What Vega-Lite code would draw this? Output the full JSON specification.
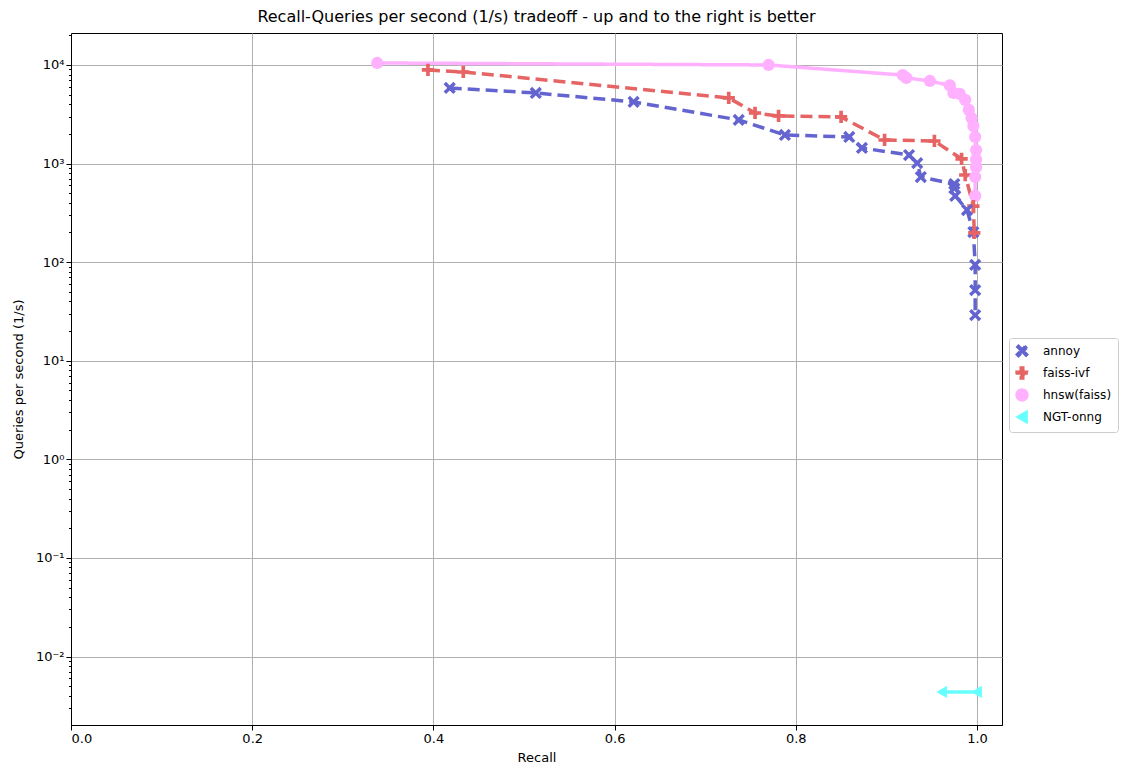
{
  "$schema": "https://vega.github.io/schema/vega-lite/v6.json",
  "autosize": "none",
  "width": 931,
  "height": 692,
  "padding": {"left": 71, "top": 33, "right": 132, "bottom": 53},
  "background": "white",
  "config": {
    "font": "DejaVu Sans",
    "view": {"stroke": "black", "strokeWidth": 1},
    "axis": {
      "labelFont": "DejaVu Sans", "titleFont": "DejaVu Sans",
      "labelFontSize": 13, "titleFontSize": 13, "titleFontWeight": "normal",
      "labelColor": "black", "titleColor": "black",
      "domainColor": "black", "tickColor": "black", "tickSize": 5,
      "gridColor": "#b0b0b0", "gridWidth": 1
    }
  },
  "title": {
    "text": "Recall-Queries per second (1/s) tradeoff - up and to the right is better",
    "fontSize": 16, "fontWeight": "normal", "font": "DejaVu Sans", "color": "black", "offset": 8
  },
  "data": {"values": [
    {"algorithm": "annoy", "recall": 0.418, "qps": 5850},
    {"algorithm": "annoy", "recall": 0.513, "qps": 5200},
    {"algorithm": "annoy", "recall": 0.621, "qps": 4220},
    {"algorithm": "annoy", "recall": 0.737, "qps": 2770},
    {"algorithm": "annoy", "recall": 0.788, "qps": 1950},
    {"algorithm": "annoy", "recall": 0.859, "qps": 1860},
    {"algorithm": "annoy", "recall": 0.873, "qps": 1440},
    {"algorithm": "annoy", "recall": 0.925, "qps": 1220},
    {"algorithm": "annoy", "recall": 0.934, "qps": 1010},
    {"algorithm": "annoy", "recall": 0.938, "qps": 730},
    {"algorithm": "annoy", "recall": 0.975, "qps": 620},
    {"algorithm": "annoy", "recall": 0.975, "qps": 560},
    {"algorithm": "annoy", "recall": 0.976, "qps": 470},
    {"algorithm": "annoy", "recall": 0.989, "qps": 338},
    {"algorithm": "annoy", "recall": 0.996, "qps": 202},
    {"algorithm": "annoy", "recall": 0.998, "qps": 94},
    {"algorithm": "annoy", "recall": 0.998, "qps": 52},
    {"algorithm": "annoy", "recall": 0.998, "qps": 29},
    {"algorithm": "faiss-ivf", "recall": 0.394, "qps": 8900},
    {"algorithm": "faiss-ivf", "recall": 0.433, "qps": 8490},
    {"algorithm": "faiss-ivf", "recall": 0.726, "qps": 4630},
    {"algorithm": "faiss-ivf", "recall": 0.755, "qps": 3260},
    {"algorithm": "faiss-ivf", "recall": 0.781, "qps": 3040},
    {"algorithm": "faiss-ivf", "recall": 0.850, "qps": 2970},
    {"algorithm": "faiss-ivf", "recall": 0.898, "qps": 1734},
    {"algorithm": "faiss-ivf", "recall": 0.953, "qps": 1694},
    {"algorithm": "faiss-ivf", "recall": 0.983, "qps": 1114},
    {"algorithm": "faiss-ivf", "recall": 0.987, "qps": 765},
    {"algorithm": "faiss-ivf", "recall": 0.996, "qps": 370},
    {"algorithm": "faiss-ivf", "recall": 0.997, "qps": 198},
    {"algorithm": "hnsw(faiss)", "recall": 0.338, "qps": 10480},
    {"algorithm": "hnsw(faiss)", "recall": 0.770, "qps": 10000},
    {"algorithm": "hnsw(faiss)", "recall": 0.918, "qps": 7900},
    {"algorithm": "hnsw(faiss)", "recall": 0.922, "qps": 7400},
    {"algorithm": "hnsw(faiss)", "recall": 0.948, "qps": 6880},
    {"algorithm": "hnsw(faiss)", "recall": 0.970, "qps": 6200},
    {"algorithm": "hnsw(faiss)", "recall": 0.974, "qps": 5200},
    {"algorithm": "hnsw(faiss)", "recall": 0.981, "qps": 5100},
    {"algorithm": "hnsw(faiss)", "recall": 0.987, "qps": 4420},
    {"algorithm": "hnsw(faiss)", "recall": 0.991, "qps": 3500},
    {"algorithm": "hnsw(faiss)", "recall": 0.994, "qps": 2900},
    {"algorithm": "hnsw(faiss)", "recall": 0.996, "qps": 2400},
    {"algorithm": "hnsw(faiss)", "recall": 0.998, "qps": 1860},
    {"algorithm": "hnsw(faiss)", "recall": 0.999, "qps": 1370},
    {"algorithm": "hnsw(faiss)", "recall": 0.999, "qps": 1100},
    {"algorithm": "hnsw(faiss)", "recall": 0.999, "qps": 920},
    {"algorithm": "hnsw(faiss)", "recall": 0.998, "qps": 730},
    {"algorithm": "hnsw(faiss)", "recall": 0.998, "qps": 470},
    {"algorithm": "NGT-onng", "recall": 0.961, "qps": 0.00437},
    {"algorithm": "NGT-onng", "recall": 0.9995, "qps": 0.00437}
  ]},
  "encoding": {
    "x": {"field": "recall", "type": "quantitative", "scale": {"domain": [0, 1.0276], "nice": false, "zero": false},
      "axis": {"title": "Recall", "values": [0, 0.2, 0.4, 0.6, 0.8, 1.0], "format": ".1f", "titlePadding": 6}},
    "color": {"field": "algorithm", "type": "nominal",
      "scale": {"domain": ["annoy", "faiss-ivf", "hnsw(faiss)", "NGT-onng"], "range": ["#6464d0", "#e66464", "#ffb0ff", "#66ffff"]},
      "legend": {"title": null, "orient": "none", "legendX": 938, "legendY": 305, "labelFontSize": 12, "labelFont": "DejaVu Sans",
        "strokeColor": "#cccccc", "fillColor": "white", "padding": 6, "cornerRadius": 3, "symbolSize": 140, "rowPadding": 4,
        "labelColor": "black", "labelOffset": 14}},
    "order": {"field": "qps", "sort": "descending"}
  },
  "layer": [
    {
      "mark": {"type": "line", "strokeWidth": 3.5},
      "encoding": {
        "y": {"field": "qps", "type": "quantitative", "scale": {"type": "log", "domain": [0.00202, 21100], "nice": false},
          "axis": {"orient": "left", "title": "Queries per second (1/s)", "values": [0.01, 0.1, 1, 10, 100, 1000, 10000],
            "labelExpr": "datum.value >= 10000 ? '10⁴' : datum.value >= 1000 ? '10³' : datum.value >= 100 ? '10²' : datum.value >= 10 ? '10¹' : datum.value >= 1 ? '10⁰' : datum.value >= 0.1 ? '10⁻¹' : '10⁻²'",
            "titlePadding": 10}},
        "strokeDash": {"field": "algorithm", "type": "nominal",
          "scale": {"domain": ["annoy", "faiss-ivf", "hnsw(faiss)", "NGT-onng"], "range": [[12, 6], [12, 6], [1, 0], [1, 0]]},
          "legend": null}
      }
    },
    {
      "mark": {"type": "point", "filled": true, "opacity": 1, "size": 150},
      "encoding": {
        "y": {"field": "qps", "type": "quantitative", "scale": {"type": "log", "domain": [0.00202, 21100], "nice": false}, "axis": null},
        "shape": {"field": "algorithm", "type": "nominal",
          "scale": {"domain": ["annoy", "faiss-ivf", "hnsw(faiss)", "NGT-onng"],
            "range": ["M-1,-0.6L-0.6,-1L0,-0.4L0.6,-1L1,-0.6L0.4,0L1,0.6L0.6,1L0,0.4L-0.6,1L-1,0.6L-0.4,0Z", "M-0.3,-1H0.3V-0.3H1V0.3H0.3V1H-0.3V0.3H-1V-0.3H-0.3Z", "circle", "triangle-left"]},
          "legend": {"title": null}}
      }
    },
    {
      "mark": {"type": "point", "opacity": 0},
      "encoding": {
        "y": {"field": "qps", "type": "quantitative", "scale": {"type": "log", "domain": [0.00202, 21100], "nice": false},
          "axis": {"orient": "left", "title": null, "labels": false, "grid": false, "domain": false, "tickSize": 2.5,
            "values": [0.003,0.004,0.005,0.006,0.007,0.008,0.009,0.02,0.03,0.04,0.05,0.06,0.07,0.08,0.09,0.2,0.3,0.4,0.5,0.6,0.7,0.8,0.9,2,3,4,5,6,7,8,9,20,30,40,50,60,70,80,90,200,300,400,500,600,700,800,900,2000,3000,4000,5000,6000,7000,8000,9000,20000]}}
      }
    }
  ],
  "resolve": {"axis": {"y": "independent"}}
}
